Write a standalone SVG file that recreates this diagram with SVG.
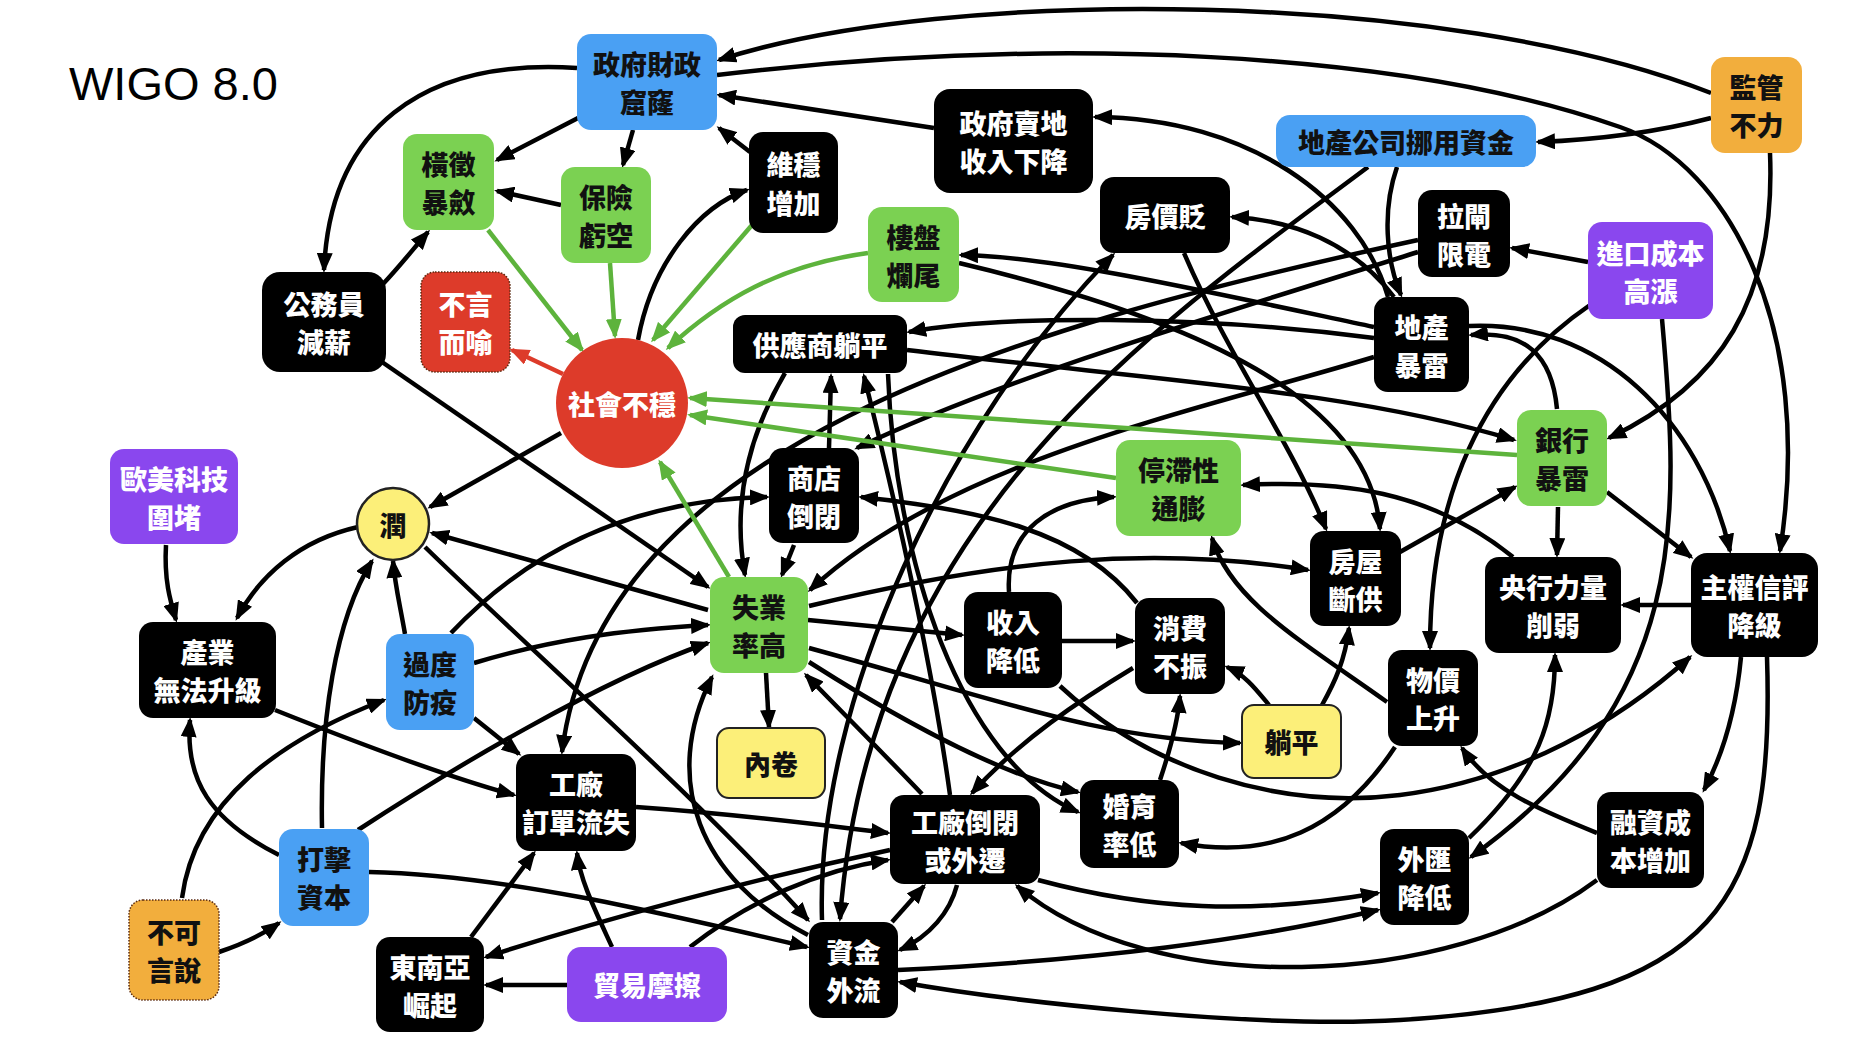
<svg xmlns="http://www.w3.org/2000/svg" width="1858" height="1046" viewBox="0 0 1858 1046">
<defs>
<marker id="a" viewBox="0 0 20 16" markerWidth="20" markerHeight="16" refX="17" refY="8" orient="auto" markerUnits="userSpaceOnUse"><path d="M0,0 L20,8 L0,16 z" fill="#000"/></marker>
<marker id="ag" viewBox="0 0 20 16" markerWidth="20" markerHeight="16" refX="17" refY="8" orient="auto" markerUnits="userSpaceOnUse"><path d="M0,0 L20,8 L0,16 z" fill="#5db33c"/></marker>
<marker id="ar" viewBox="0 0 20 16" markerWidth="20" markerHeight="16" refX="17" refY="8" orient="auto" markerUnits="userSpaceOnUse"><path d="M0,0 L20,8 L0,16 z" fill="#dd3b2a"/></marker>
</defs>
<style>
.e{fill:none;stroke:#000;stroke-width:4.5;marker-end:url(#a)}
.eg{fill:none;stroke:#5db33c;stroke-width:4.5;marker-end:url(#ag)}
.er{fill:none;stroke:#dd3b2a;stroke-width:4.5;marker-end:url(#ar)}
.k{fill:#000}
.b{fill:#4aa0f3}
.gn{fill:#7bd152}
.p{fill:#8a47ee}
.o{fill:#f2ae3d}
.y{fill:#fcef79;stroke:#222;stroke-width:2}
.rd{fill:#dd3b2a}
.dot{stroke:#5a2a10;stroke-width:1.5;stroke-dasharray:1.5 1.5}
.t{font-family:"Noto Sans CJK TC","Noto Sans CJK SC",sans-serif;font-size:27px;font-weight:900;text-anchor:middle;dominant-baseline:central}
.w{fill:#fff}
.d{fill:#111}
</style>
<rect width="1858" height="1046" fill="#fff"/>
<text x="69" y="100" font-family="Liberation Sans, Arial, sans-serif" font-size="47" fill="#000">WIGO 8.0</text>

<g id="connectors">
<path class="e" d="M577,68 C420,58 330,130 324,270"/>
<path class="e" d="M578,118 L497,160"/>
<path class="e" d="M561,205 L497,191"/>
<path class="e" d="M383,284 C400,266 414,248 428,232"/>
<path class="e" d="M633,130 L623,165"/>
<path class="e" d="M750,152 L719,128"/>
<path class="e" d="M638,340 C652,262 700,206 747,190"/>
<path class="e" d="M934,128 L719,95"/>
<path class="e" d="M1711,93 C1450,-10 950,-15 719,60"/>
<path class="e" d="M717,75 C1050,35 1400,50 1620,127 C1730,165 1815,330 1780,551"/>
<path class="e" d="M1711,118 C1650,134 1590,140 1538,142"/>
<path class="e" d="M1770,153 C1776,300 1720,385 1609,438"/>
<path class="e" d="M1397,167 C1382,210 1386,260 1401,295"/>
<path class="e" d="M1368,167 C1150,330 870,520 840,919"/>
<path class="e" d="M1588,262 L1512,248"/>
<path class="e" d="M1590,305 C1480,380 1430,500 1430,648"/>
<path class="e" d="M1662,319 C1680,520 1690,700 1471,857"/>
<path class="e" d="M1418,252 C1200,320 1000,380 857,448"/>
<path class="e" d="M1418,240 C1000,330 600,450 562,752"/>
<path class="e" d="M1394,297 C1352,242 1292,220 1232,217"/>
<path class="e" d="M1388,297 C1360,200 1250,118 1095,117"/>
<path class="e" d="M1374,327 C1200,290 1050,256 961,255"/>
<path class="e" d="M1374,338 C1200,315 1000,315 909,332"/>
<path class="e" d="M1374,357 C1200,410 950,460 810,590"/>
<path class="e" d="M1469,326 C1600,320 1700,420 1730,551"/>
<path class="e" d="M1557,409 C1552,355 1525,330 1471,335"/>
<path class="e" d="M1184,253 C1230,360 1290,440 1326,529"/>
<path class="e" d="M959,263 C1200,320 1370,400 1380,529"/>
<path class="e" d="M822,920 C815,700 950,420 1113,255"/>
<path class="e" d="M907,350 C1150,380 1350,390 1514,440"/>
<path class="e" d="M829,448 L831,376"/>
<path class="e" d="M794,545 L782,575"/>
<path class="e" d="M785,373 C740,450 735,520 745,575"/>
<path class="e" d="M950,795 C930,650 890,480 864,376"/>
<path class="e" d="M888,374 C895,560 960,760 1078,812"/>
<path class="e" d="M808,620 L962,635"/>
<path class="e" d="M1062,641 L1133,641"/>
<path class="e" d="M1009,592 C1005,530 1050,500 1114,497"/>
<path class="e" d="M766,673 L769,727"/>
<path class="e" d="M809,606 C1000,560 1150,545 1308,570"/>
<path class="e" d="M809,648 C1000,700 1100,740 1240,743"/>
<path class="e" d="M809,662 C900,720 1000,775 1078,792"/>
<path class="e" d="M922,794 C880,750 840,710 806,675"/>
<path class="e" d="M808,935 C700,880 660,780 712,677"/>
<path class="e" d="M425,547 C520,640 700,800 808,920"/>
<path class="e" d="M708,610 L432,533"/>
<path class="e" d="M382,362 L708,587"/>
<path class="e" d="M474,663 C550,640 620,630 708,625"/>
<path class="e" d="M358,830 C450,770 600,680 708,643"/>
<path class="e" d="M451,633 C520,560 620,500 767,497"/>
<path class="e" d="M474,718 L519,754"/>
<path class="e" d="M405,634 C399,600 395,585 393,561"/>
<path class="e" d="M322,828 C320,720 335,620 372,561"/>
<path class="e" d="M279,855 C210,820 185,780 190,720"/>
<path class="e" d="M275,710 C350,740 440,775 514,795"/>
<path class="e" d="M219,952 C240,945 262,935 279,923"/>
<path class="e" d="M182,898 C195,800 280,740 384,700"/>
<path class="e" d="M166,545 C164,580 170,600 176,620"/>
<path class="e" d="M358,527 C300,540 260,575 237,618"/>
<path class="e" d="M561,433 L430,507"/>
<path class="e" d="M471,937 L534,853"/>
<path class="e" d="M612,947 C595,910 580,880 577,853"/>
<path class="e" d="M567,985 L486,985"/>
<path class="e" d="M890,850 C750,880 600,920 486,957"/>
<path class="e" d="M690,947 C750,900 820,870 888,860"/>
<path class="e" d="M636,807 C750,815 820,825 888,833"/>
<path class="e" d="M369,872 C500,875 650,910 807,947"/>
<path class="e" d="M892,922 L924,886"/>
<path class="e" d="M957,885 C950,912 930,936 900,950"/>
<path class="e" d="M898,970 C1100,960 1250,940 1378,910"/>
<path class="e" d="M1038,880 C1150,910 1250,915 1378,893"/>
<path class="e" d="M1597,880 C1450,990 1150,1000 1017,886"/>
<path class="e" d="M1767,657 C1775,900 1720,1000 1400,1020 C1250,1029 1000,1000 900,982"/>
<path class="e" d="M1741,657 C1735,720 1720,760 1704,790"/>
<path class="e" d="M1597,833 C1540,810 1490,790 1462,748"/>
<path class="e" d="M1060,686 C1150,770 1280,810 1400,795 C1520,780 1620,720 1690,657"/>
<path class="e" d="M1395,747 C1340,830 1270,860 1181,843"/>
<path class="e" d="M1387,702 C1300,640 1230,600 1212,538"/>
<path class="e" d="M1269,705 C1255,688 1245,675 1227,667"/>
<path class="e" d="M1322,705 C1335,682 1345,660 1349,628"/>
<path class="e" d="M1160,780 C1170,750 1178,720 1180,696"/>
<path class="e" d="M1133,668 C1080,700 1020,740 972,793"/>
<path class="e" d="M1137,603 C1080,530 980,510 861,497"/>
<path class="e" d="M1469,838 C1540,770 1555,720 1555,655"/>
<path class="e" d="M1558,507 L1557,555"/>
<path class="e" d="M1607,492 L1691,557"/>
<path class="e" d="M1691,605 L1623,605"/>
<path class="e" d="M1513,557 C1430,490 1340,480 1243,485"/>
<path class="e" d="M1400,552 L1515,487"/>
<path class="eg" d="M752,225 L653,340"/>
<path class="eg" d="M868,253 C780,265 720,300 668,348"/>
<path class="eg" d="M610,263 L615,336"/>
<path class="eg" d="M488,230 L582,350"/>
<path class="eg" d="M1517,455 L690,398"/>
<path class="eg" d="M1116,478 L690,415"/>
<path class="eg" d="M729,577 L660,462"/>
<path class="er" d="M563,374 L512,350"/>
</g>

<g id="n-gov"><rect class="b" x="577" y="34" width="140" height="96" rx="14"/><text class="t d"><tspan x="647" y="63">政府財政</tspan><tspan x="647" y="101">窟窿</tspan></text></g>
<g id="n-heng"><rect class="gn" x="403" y="134" width="91" height="96" rx="14"/><text class="t d"><tspan x="448.5" y="163">橫徵</tspan><tspan x="448.5" y="201">暴斂</tspan></text></g>
<g id="n-bao"><rect class="gn" x="561" y="167" width="90" height="96" rx="14"/><text class="t d"><tspan x="606" y="196">保險</tspan><tspan x="606" y="234">虧空</tspan></text></g>
<g id="n-gong"><rect class="k" x="262" y="272" width="124" height="100" rx="18"/><text class="t w"><tspan x="324" y="303">公務員</tspan><tspan x="324" y="341">減薪</tspan></text></g>
<g id="n-buyan"><rect class="rd dot" x="421" y="272" width="89" height="100" rx="14"/><text class="t w"><tspan x="465.5" y="303">不言</tspan><tspan x="465.5" y="341">而喻</tspan></text></g>
<g id="n-she"><ellipse cx="622" cy="403" rx="66" ry="65" fill="#dd3b2a"/><text class="t w" x="622" y="403">社會不穩</text></g>
<g id="n-wei"><rect class="k" x="749" y="132" width="89" height="101" rx="14"/><text class="t w"><tspan x="793.5" y="163">維穩</tspan><tspan x="793.5" y="202">增加</tspan></text></g>
<g id="n-sell"><rect class="k" x="934" y="89" width="159" height="104" rx="16"/><text class="t w"><tspan x="1013.5" y="122">政府賣地</tspan><tspan x="1013.5" y="160">收入下降</tspan></text></g>
<g id="n-fjb"><rect class="k" x="1100" y="177" width="130" height="76" rx="14"/><text class="t w" x="1165" y="215">房價貶</text></g>
<g id="n-lou"><rect class="gn" x="868" y="207" width="91" height="95" rx="14"/><text class="t d"><tspan x="913.5" y="236">樓盤</tspan><tspan x="913.5" y="274">爛尾</tspan></text></g>
<g id="n-gys"><rect class="k" x="733" y="315" width="174" height="58" rx="12"/><text class="t w" x="820" y="344">供應商躺平</text></g>
<g id="n-dcgs"><rect class="b" x="1276" y="115" width="260" height="52" rx="14"/><text class="t d" x="1406" y="141">地產公司挪用資金</text></g>
<g id="n-jg"><rect class="o" x="1711" y="57" width="91" height="96" rx="14"/><text class="t d"><tspan x="1756.5" y="86">監管</tspan><tspan x="1756.5" y="124">不力</tspan></text></g>
<g id="n-lz"><rect class="k" x="1418" y="190" width="92" height="87" rx="14"/><text class="t w"><tspan x="1464" y="215">拉閘</tspan><tspan x="1464" y="253">限電</tspan></text></g>
<g id="n-jk"><rect class="p" x="1588" y="222" width="125" height="97" rx="14"/><text class="t w"><tspan x="1650.5" y="252">進口成本</tspan><tspan x="1650.5" y="290">高漲</tspan></text></g>
<g id="n-dc"><rect class="k" x="1374" y="297" width="95" height="95" rx="14"/><text class="t w"><tspan x="1421.5" y="326">地產</tspan><tspan x="1421.5" y="364">暴雷</tspan></text></g>
<g id="n-yh"><rect class="gn" x="1517" y="410" width="90" height="96" rx="14"/><text class="t d"><tspan x="1562" y="439">銀行</tspan><tspan x="1562" y="477">暴雷</tspan></text></g>
<g id="n-tz"><rect class="gn" x="1116" y="440" width="125" height="96" rx="14"/><text class="t d"><tspan x="1178.5" y="469">停滯性</tspan><tspan x="1178.5" y="507">通膨</tspan></text></g>
<g id="n-sd"><rect class="k" x="769" y="448" width="90" height="95" rx="14"/><text class="t w"><tspan x="814" y="477">商店</tspan><tspan x="814" y="515">倒閉</tspan></text></g>
<g id="n-sy"><rect class="gn" x="710" y="577" width="98" height="96" rx="14"/><text class="t d"><tspan x="759" y="606">失業</tspan><tspan x="759" y="644">率高</tspan></text></g>
<g id="n-sr"><rect class="k" x="964" y="592" width="98" height="96" rx="14"/><text class="t w"><tspan x="1013" y="621">收入</tspan><tspan x="1013" y="659">降低</tspan></text></g>
<g id="n-xf"><rect class="k" x="1135" y="598" width="90" height="96" rx="14"/><text class="t w"><tspan x="1180" y="627">消費</tspan><tspan x="1180" y="665">不振</tspan></text></g>
<g id="n-fw"><rect class="k" x="1310" y="531" width="91" height="95" rx="14"/><text class="t w"><tspan x="1355.5" y="560">房屋</tspan><tspan x="1355.5" y="598">斷供</tspan></text></g>
<g id="n-yhl"><rect class="k" x="1485" y="557" width="136" height="96" rx="14"/><text class="t w"><tspan x="1553" y="586">央行力量</tspan><tspan x="1553" y="624">削弱</tspan></text></g>
<g id="n-zq"><rect class="k" x="1691" y="553" width="127" height="104" rx="16"/><text class="t w"><tspan x="1754.5" y="586">主權信評</tspan><tspan x="1754.5" y="624">降級</tspan></text></g>
<g id="n-wj"><rect class="k" x="1388" y="650" width="90" height="96" rx="14"/><text class="t w"><tspan x="1433" y="679">物價</tspan><tspan x="1433" y="717">上升</tspan></text></g>
<g id="n-tp"><rect class="y" x="1242" y="705" width="99" height="73" rx="12"/><text class="t d" x="1291.5" y="741.5">躺平</text></g>
<g id="n-wh"><rect class="k" x="1380" y="829" width="89" height="96" rx="14"/><text class="t w"><tspan x="1424.5" y="858">外匯</tspan><tspan x="1424.5" y="896">降低</tspan></text></g>
<g id="n-rz"><rect class="k" x="1597" y="792" width="107" height="96" rx="14"/><text class="t w"><tspan x="1650.5" y="821">融資成</tspan><tspan x="1650.5" y="859">本增加</tspan></text></g>
<g id="n-om"><rect class="p" x="110" y="449" width="128" height="95" rx="14"/><text class="t w"><tspan x="174" y="478">歐美科技</tspan><tspan x="174" y="516">圍堵</tspan></text></g>
<g id="n-run"><ellipse cx="393" cy="524" rx="36" ry="36" fill="#fcef79" stroke="#222" stroke-width="2.5"/><text class="t d" x="393" y="524">潤</text></g>
<g id="n-cy"><rect class="k" x="139" y="622" width="137" height="96" rx="14"/><text class="t w"><tspan x="207.5" y="651">產業</tspan><tspan x="207.5" y="689">無法升級</tspan></text></g>
<g id="n-gd"><rect class="b" x="386" y="634" width="88" height="96" rx="14"/><text class="t d"><tspan x="430" y="663">過度</tspan><tspan x="430" y="701">防疫</tspan></text></g>
<g id="n-gcd"><rect class="k" x="516" y="754" width="120" height="97" rx="14"/><text class="t w"><tspan x="576" y="783">工廠</tspan><tspan x="576" y="821">訂單流失</tspan></text></g>
<g id="n-dj"><rect class="b" x="279" y="829" width="90" height="97" rx="14"/><text class="t d"><tspan x="324" y="858">打擊</tspan><tspan x="324" y="896">資本</tspan></text></g>
<g id="n-bk"><rect class="o dot" x="129" y="900" width="90" height="100" rx="14"/><text class="t d"><tspan x="174" y="931">不可</tspan><tspan x="174" y="969">言說</tspan></text></g>
<g id="n-dny"><rect class="k" x="376" y="937" width="108" height="95" rx="14"/><text class="t w"><tspan x="430" y="966">東南亞</tspan><tspan x="430" y="1004">崛起</tspan></text></g>
<g id="n-my"><rect class="p" x="567" y="947" width="160" height="75" rx="14"/><text class="t w" x="647" y="984.5">貿易摩擦</text></g>
<g id="n-nj"><rect class="y" x="717" y="728" width="108" height="70" rx="12"/><text class="t d" x="771" y="763">內卷</text></g>
<g id="n-gcb"><rect class="k" x="890" y="795" width="150" height="89" rx="14"/><text class="t w"><tspan x="965" y="821">工廠倒閉</tspan><tspan x="965" y="859">或外遷</tspan></text></g>
<g id="n-hy"><rect class="k" x="1080" y="780" width="99" height="88" rx="14"/><text class="t w"><tspan x="1129.5" y="805">婚育</tspan><tspan x="1129.5" y="843">率低</tspan></text></g>
<g id="n-zj"><rect class="k" x="809" y="922" width="89" height="96" rx="14"/><text class="t w"><tspan x="853.5" y="951">資金</tspan><tspan x="853.5" y="989">外流</tspan></text></g>
</svg>
